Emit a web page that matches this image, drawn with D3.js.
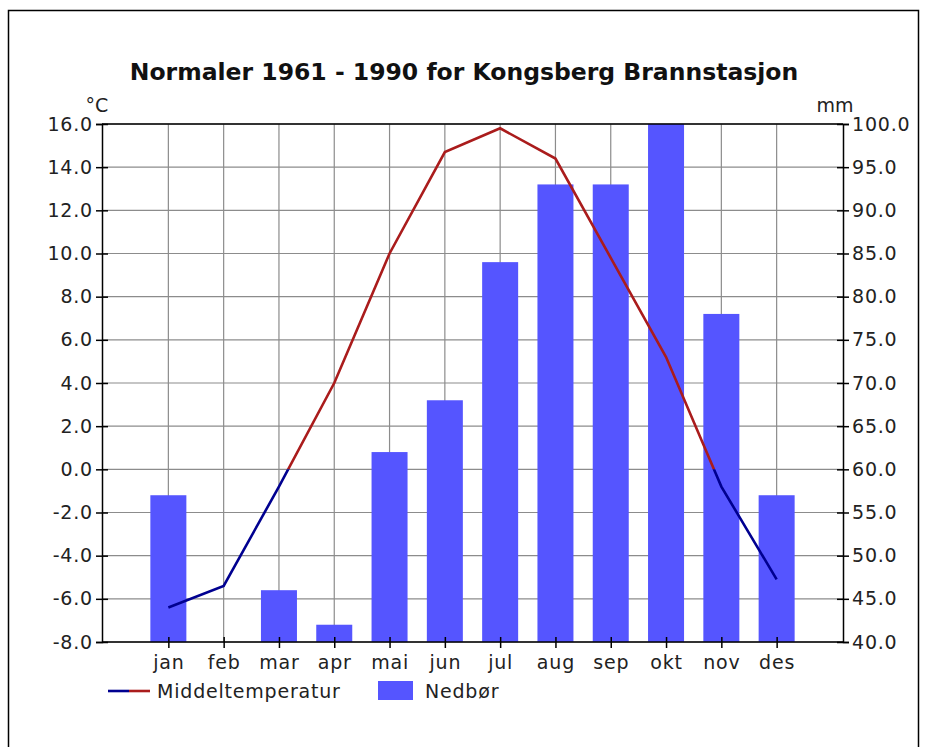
<!DOCTYPE html>
<html>
<head>
<meta charset="utf-8">
<script src="https://cdn.jsdelivr.net/npm/d3@7"></script>
<style>
  body { margin: 0; background: #fff; }
  text { font-family: "DejaVu Sans", Verdana, sans-serif; }
</style>
</head>
<body>
<div id="chart"></div>
<script>
var months = ['jan','feb','mar','apr','mai','jun','jul','aug','sep','okt','nov','des'];
var temperature = [-6.4, -5.4, -0.8, 4.0, 10.0, 14.7, 15.8, 14.4, 9.8, 5.2, -0.8, -5.1];
var precipitation = [57, 39, 46, 42, 62, 68, 84, 93, 93, 101, 78, 57];
var tempTicks = [-8, -6, -4, -2, 0, 2, 4, 6, 8, 10, 12, 14, 16];
var mmTicks = [40, 45, 50, 55, 60, 65, 70, 75, 80, 85, 90, 95, 100];

var plotLeft = 102, plotRight = 843, plotTop = 124, plotBottom = 642;
var fs = 19;

var svg = d3.select('#chart')
  .append('svg')
  .attr('width', 926)
  .attr('height', 747);

// outer frame
svg.append('rect')
  .attr('x', 8.5).attr('y', 10.5)
  .attr('width', 910).attr('height', 760)
  .attr('fill', 'none')
  .attr('stroke', '#000')
  .attr('stroke-width', 1.5);

var x = d3.scalePoint().domain(months).range([plotLeft, plotRight]).padding(1.2);
var yT = d3.scaleLinear().domain([-8, 16]).range([plotBottom, plotTop]);
var yP = d3.scaleLinear().domain([40, 100]).range([plotBottom, plotTop]);

svg.append('text')
  .attr('x', 464).attr('y', 80)
  .attr('text-anchor', 'middle')
  .attr('font-size', 23.5)
  .attr('font-weight', 'bold')
  .attr('fill', '#111')
  .text('Normaler 1961 - 1990 for Kongsberg Brannstasjon');

// grid
var grid = svg.append('g').attr('stroke', '#8c8c8c').attr('stroke-width', 1.2);
grid.selectAll('line.h')
  .data(tempTicks)
  .enter().append('line')
  .attr('x1', plotLeft).attr('x2', plotRight)
  .attr('y1', function(d){return yT(d);})
  .attr('y2', function(d){return yT(d);});
grid.selectAll('line.v')
  .data(months)
  .enter().append('line')
  .attr('y1', plotTop).attr('y2', plotBottom)
  .attr('x1', function(d){return x(d);})
  .attr('x2', function(d){return x(d);});

svg.append('clipPath').attr('id', 'plot')
  .append('rect')
  .attr('x', plotLeft).attr('y', plotTop)
  .attr('width', plotRight - plotLeft).attr('height', plotBottom - plotTop);

// bars
var barW = 36;
svg.append('g')
  .attr('clip-path', 'url(#plot)')
  .selectAll('rect')
  .data(precipitation)
  .enter().append('rect')
  .attr('x', function(d, i){return x(months[i]) - barW / 2;})
  .attr('y', function(d){return yP(d);})
  .attr('width', barW)
  .attr('height', function(d){return Math.max(0, yP(40) - yP(d));})
  .attr('fill', '#5555ff');

// temperature line, red above zero, navy below
svg.append('clipPath').attr('id', 'above')
  .append('rect')
  .attr('x', plotLeft).attr('y', plotTop)
  .attr('width', plotRight - plotLeft).attr('height', yT(0) - plotTop);
svg.append('clipPath').attr('id', 'below')
  .append('rect')
  .attr('x', plotLeft).attr('y', yT(0))
  .attr('width', plotRight - plotLeft).attr('height', plotBottom - yT(0));

var line = d3.line()
  .x(function(d, i){return x(months[i]);})
  .y(function(d){return yT(d);});

svg.append('path')
  .datum(temperature)
  .attr('d', line)
  .attr('fill', 'none')
  .attr('stroke', '#aa1c1c')
  .attr('stroke-width', 2.6)
  .attr('clip-path', 'url(#above)');
svg.append('path')
  .datum(temperature)
  .attr('d', line)
  .attr('fill', 'none')
  .attr('stroke', '#000090')
  .attr('stroke-width', 2.6)
  .attr('clip-path', 'url(#below)');

// axes
var axisL = d3.axisLeft(yT).tickValues(tempTicks).tickSize(6)
  .tickFormat(function(d){return d3.format('.1f')(d).replace('−', '-');});
var axisR = d3.axisRight(yP).tickValues(mmTicks).tickSize(6)
  .tickFormat(d3.format('.1f'));
var axisB = d3.axisBottom(x).tickSize(6);

function styleAxis(g) {
  g.select('.domain').attr('stroke', '#000').attr('stroke-width', 1.5);
  g.selectAll('.tick line').attr('stroke', '#000').attr('stroke-width', 1.5);
  g.selectAll('.tick text').attr('font-size', fs).attr('fill', '#222')
    .attr('letter-spacing', 0.8)
    .attr('font-family', '"DejaVu Sans", Verdana, sans-serif');
}

var gl = svg.append('g').attr('transform', 'translate(' + plotLeft + ',0)').call(axisL).call(styleAxis);
gl.selectAll('.tick line').attr('x2', -6).attr('x1', 6);
gl.selectAll('.tick text').attr('x', -9);
var gr = svg.append('g').attr('transform', 'translate(' + plotRight + ',0)').call(axisR).call(styleAxis);
gr.selectAll('.tick line').attr('x1', -6).attr('x2', 6);
gr.selectAll('.tick text').attr('x', 9);
var gb = svg.append('g').attr('transform', 'translate(0,' + plotBottom + ')').call(axisB).call(styleAxis);
gb.select('.domain').attr('d', 'M' + plotLeft + ',0H' + plotRight);
gb.selectAll('.tick line').attr('y1', -5).attr('y2', 6);
gb.selectAll('.tick text').attr('y', 14);

svg.append('line')
  .attr('x1', plotLeft).attr('x2', plotRight)
  .attr('y1', plotTop).attr('y2', plotTop)
  .attr('stroke', '#000').attr('stroke-width', 1.5);

svg.append('text').attr('x', 97).attr('y', 112).attr('font-size', fs)
  .attr('text-anchor', 'middle').attr('fill', '#222').text('°C');
svg.append('text').attr('x', 835).attr('y', 112).attr('font-size', fs)
  .attr('text-anchor', 'middle').attr('fill', '#222').text('mm');

// legend
var legY = 691;
svg.append('line').attr('x1', 108).attr('x2', 129).attr('y1', legY).attr('y2', legY)
  .attr('stroke', '#000090').attr('stroke-width', 2.6);
svg.append('line').attr('x1', 129).attr('x2', 150).attr('y1', legY).attr('y2', legY)
  .attr('stroke', '#aa1c1c').attr('stroke-width', 2.6);
svg.append('text').attr('x', 157).attr('y', legY + 7).attr('font-size', fs)
  .attr('letter-spacing', 0.8).attr('fill', '#222').text('Middeltemperatur');
svg.append('rect').attr('x', 378).attr('y', legY - 10).attr('width', 35).attr('height', 19)
  .attr('fill', '#5555ff');
svg.append('text').attr('x', 425).attr('y', legY + 7).attr('font-size', fs)
  .attr('letter-spacing', 0.8).attr('fill', '#222').text('Nedbør');
</script>
</body>
</html>
